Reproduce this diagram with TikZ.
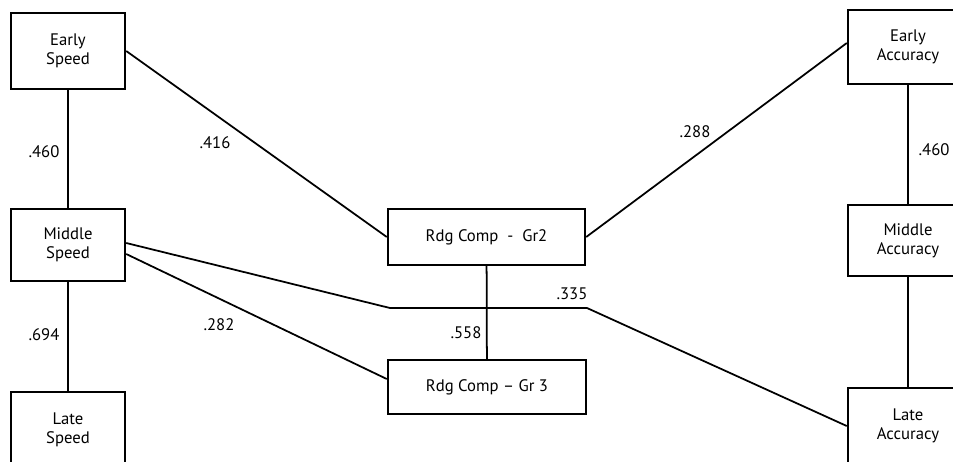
\documentclass[tikz,border=0pt]{standalone}
\usepackage{fontspec}
\setmainfont{PT Sans}
\usetikzlibrary{positioning,calc}

\begin{document}
\begin{tikzpicture}[x=0.02cm, y=-0.02cm,
    every node/.style={font=\fontsize{9.5}{11}\selectfont},
    box/.style={draw, line width=1.4pt, align=center, inner sep=2pt},
    coef/.style={inner sep=1pt},
    link/.style={line width=1pt}]
    \clip (0,0) rectangle (953,461);

    % Speed measures (left column)
    \node[box, minimum width=2.28cm, minimum height=1.52cm] (es) at (68,51) {Early\\Speed};
    \node[box, minimum width=2.28cm, minimum height=1.44cm] (ms) at (68,245) {Middle\\Speed};
    \node[box, minimum width=2.28cm, minimum height=1.52cm] (ls) at (68,430) {Late\\Speed};

    % Reading comprehension (middle)
    \node[box, minimum width=3.94cm, minimum height=1.12cm] (gr2) at (486.5,237) {Rdg Comp~ - ~Gr2};
    \node[box, minimum width=3.96cm, minimum height=1.08cm] (gr3) at (487,387) {Rdg Comp -- Gr 3};

    % Accuracy measures (right column)
    \node[box, minimum width=2.4cm, minimum height=1.48cm] (ea) at (908,47) {Early\\Accuracy};
    \node[box, minimum width=2.4cm, minimum height=1.42cm] (ma) at (908,240.5) {Middle\\Accuracy};
    \node[box, minimum width=2.4cm, minimum height=1.52cm] (la) at (908,426) {Late\\Accuracy};

    % bends of the middle speed -> late accuracy path
    \coordinate (k1) at (390,308);
    \coordinate (k2) at (587,308);

    % paths
    \draw[link] (es) -- (ms);
    \draw[link] (ms) -- (ls);
    \draw[link] (ea) -- (ma);
    \draw[link] (ma) -- (la);
    \draw[link] (gr2) -- (gr3);
    \draw[link] (es.east) -- (gr2.west);
    \draw[link] (gr2.east) -- ($(ea.west)+(0,-4)$);
    \draw[link] ($(ms.east)+(0,-2)$) -- (k1) -- (k2) -- (la.west);
    \draw[link] ($(ms.east)+(0,9)$) -- ($(gr3.west)+(0,-8)$);

    % coefficients
    \node[coef] (c1) at (44,152) {.460};
    \node[coef] (c2) at (44,335) {.694};
    \node[coef] (c3) at (215,143) {.416};
    \node[coef] (c4) at (219,325) {.282};
    \node[coef] (c5) at (466,333) {.558};
    \node[coef] (c6) at (572,294) {.335};
    \node[coef] (c7) at (695,132) {.288};
    \node[coef] (c8) at (934,150) {.460};
\end{tikzpicture}
\end{document}
